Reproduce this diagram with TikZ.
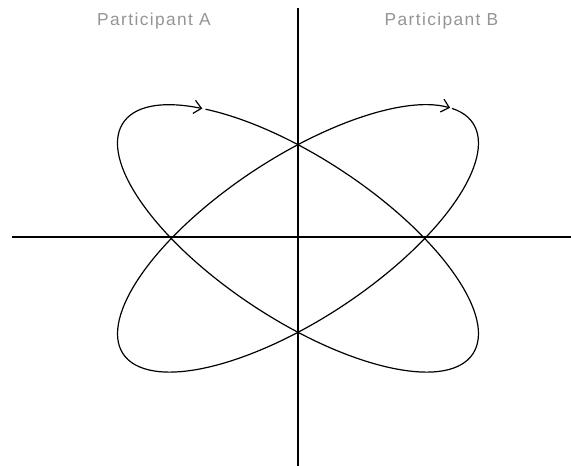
\documentclass[tikz,border=0pt]{standalone}
\usepackage{fontspec}
\newfontfamily\labelfont{Liberation Sans}[LetterSpace=8]
\usetikzlibrary{arrows.meta}
\begin{document}
\begin{tikzpicture}[x=0.75pt,y=0.75pt,
    axisline/.style={line width=1.1pt},
    loopline/.style={line width=0.9pt,-{Straight Barb[length=5.5pt,width=10pt]}},
    partlabel/.style={anchor=base,text=black!42,font=\labelfont\fontsize{13pt}{15pt}\selectfont}]
  \useasboundingbox (-298,-229) rectangle (273,237);
  % axes
  \coordinate (vtop) at (0,229);
  \coordinate (vbot) at (0,-229);
  \coordinate (hleft) at (-286,0);
  \coordinate (hright) at (273,0);
  \draw[axisline] (vtop) -- (vbot);
  \draw[axisline] (hleft) -- (hright);
  % participant labels
  \node[partlabel] (partA) at (-144,211) {Participant A};
  \node[partlabel] (partB) at (143.5,211) {Participant B};
  % loop of A
  \begin{scope}[shift={(0,-1.5)},rotate=-33.4]
    \draw[loopline] (135.1:209.5 and 80.8)
      arc[start angle=135.1,end angle=-223.7,x radius=209.5,y radius=80.8];
  \end{scope}
  % loop of B
  \begin{scope}[shift={(0,-1.5)},rotate=33.4]
    \draw[loopline] (17.1:209.5 and 80.8)
      arc[start angle=17.1,end angle=-341.7,x radius=209.5,y radius=80.8];
  \end{scope}
\end{tikzpicture}
\end{document}
